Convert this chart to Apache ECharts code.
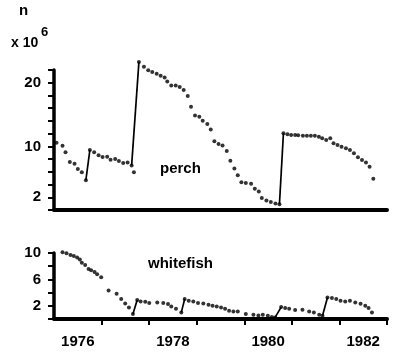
<!DOCTYPE html>
<html>
<head>
<meta charset="utf-8">
<script src="https://cdn.jsdelivr.net/npm/echarts@6/dist/echarts.min.js"></script>
<style>
html,body{margin:0;padding:0;background:#fff;}
#c{width:400px;height:358px;}
</style>
</head>
<body>
<div id="c"></div>
<script>
// ---- data (years as decimal year, values in millions) ----
const perchYears = [1976.053,1976.179,1976.242,1976.333,1976.432,1976.501,1976.585,1976.670,
  1976.754,1976.844,1976.937,1977.021,1977.118,1977.189,1977.286,1977.364,1977.455,1977.547,1977.632,1977.680,
  1977.785,1977.891,1977.981,1978.065,1978.158,1978.242,1978.326,1978.381,1978.465,1978.558,1978.642,1978.726,
  1978.811,1978.880,1978.964,1979.055,1979.126,1979.223,1979.295,1979.371,1979.459,1979.543,1979.632,1979.707,
  1979.792,1979.863,1979.939,1980.032,1980.143,1980.221,1980.305,1980.368,1980.465,1980.558,1980.655,1980.739,
  1980.823,1980.907,1980.985,1981.069,1981.133,1981.232,1981.316,1981.400,1981.484,1981.568,1981.638,1981.722,
  1981.807,1981.876,1981.960,1982.044,1982.137,1982.221,1982.305,1982.389,1982.474,1982.558,1982.634,1982.712];
const perchValues = [10.58,10.11,9.06,7.53,7.26,6.43,5.95,4.69,
  9.43,9.06,8.59,8.32,8.37,7.90,8.01,7.69,7.37,7.48,7.01,5.95,
  23.27,22.53,21.95,21.70,21.43,21.11,20.84,20.21,19.58,19.58,19.33,18.85,
  17.91,16.22,14.84,14.64,14.01,13.53,12.66,10.82,10.37,10.14,9.27,7.74,
  6.54,5.48,4.37,4.26,4.11,3.32,2.91,1.89,1.48,1.26,1.01,0.90,
  12.06,11.91,11.80,11.80,11.75,11.68,11.68,11.68,11.68,11.53,11.27,11.01,
  11.27,10.48,10.22,9.95,9.70,9.43,8.91,8.27,7.85,7.48,6.79,4.90];
// stocking jumps: [from index, to index]
const perchJumps = [[7,8],[18,20],[55,56]];

const whitefishYears = [1976.179,1976.263,1976.347,1976.417,1976.486,1976.543,1976.585,1976.655,1976.726,1976.781,
  1976.853,1976.907,1976.992,1977.147,1977.316,1977.413,1977.497,1977.575,1977.659,
  1977.749,1977.821,1977.918,1978.002,1978.171,1978.297,1978.396,1978.465,1978.564,1978.676,
  1978.747,1978.832,1978.928,1979.027,1979.139,1979.248,1979.333,1979.421,1979.512,1979.596,1979.680,
  1979.771,1979.863,1980.032,1980.192,1980.297,1980.389,1980.495,1980.579,1980.648,
  1980.775,1980.859,1980.943,1981.069,1981.223,1981.364,1981.463,1981.575,1981.644,
  1981.749,1981.842,1981.933,1982.023,1982.122,1982.221,1982.333,1982.444,1982.543,1982.613,1982.684];
const whitefishValues = [10.11,9.96,9.71,9.55,9.30,9.00,8.54,8.20,7.59,7.40,
  7.14,6.79,6.34,4.32,3.83,3.02,2.35,1.75,0.75,
  2.87,2.66,2.61,2.42,2.51,2.42,2.26,1.90,1.55,1.00,
  3.02,2.76,2.66,2.42,2.35,2.16,2.01,1.90,1.75,1.55,1.25,
  1.15,1.15,0.75,0.65,0.54,0.65,0.50,0.30,0.24,
  1.81,1.66,1.55,1.36,1.40,1.15,1.00,0.65,0.50,
  3.26,3.17,3.02,2.76,2.66,2.76,2.51,2.31,2.01,1.66,1.00];
const whitefishJumps = [[18,19],[28,29],[48,49],[57,58]];

const perchTickLabels = [2, 10, 20];
const whitefishTickLabels = [2, 6, 10];
const yearLabels = ['1976', '1978', '1980', '1982'];

// ---- build ----
const FONT = 'Liberation Sans';
const toPts = (xs, ys) => xs.map((x, i) => [x, ys[i]]);
const perchPts = toPts(perchYears, perchValues);
const wfPts = toPts(whitefishYears, whitefishValues);

const xTicks = [1977,1978,1979,1980,1981,1982,1983];
const xLabelPos = yearLabels.map(s => Number(s) + 0.5);

function jumpSeries(pts, jumps, idx) {
  return jumps.map(([a, b]) => ({
    type: 'line', xAxisIndex: idx, yAxisIndex: idx, clip: false,
    data: [pts[a], pts[b]], symbol: 'none', silent: true,
    lineStyle: { color: '#000', width: 1.7 }, z: 2
  }));
}

const chart = echarts.init(document.getElementById('c'), null, { renderer: 'canvas' });
chart.setOption({
  animation: false,
  backgroundColor: '#fff',
  grid: [
    { left: 54, right: 13, top: 70, height: 140, outerBoundsMode: 'none', containLabel: false },
    { left: 54, right: 13, top: 253, height: 66, outerBoundsMode: 'none', containLabel: false }
  ],
  xAxis: [
    { type: 'value', gridIndex: 0, min: 1976, max: 1983, splitLine: { show: false },
      axisLine: { show: true, onZero: false, lineStyle: { color: '#000', width: 4 } },
      axisTick: { show: false }, axisLabel: { show: false } },
    { type: 'value', gridIndex: 1, min: 1976, max: 1983, splitLine: { show: false },
      axisLine: { show: true, onZero: false, lineStyle: { color: '#000', width: 4 } },
      axisTick: { show: true, customValues: xTicks, length: 6, inside: false, lineStyle: { color: '#000', width: 2 } },
      axisLabel: { show: true, customValues: xLabelPos, margin: 15,
        formatter: v => String(Math.floor(v)),
        color: '#000', fontFamily: FONT, fontWeight: 'bold', fontSize: 15 } }
  ],
  yAxis: [
    { type: 'value', gridIndex: 0, min: 0, max: 22, interval: 2, splitLine: { show: false },
      axisLine: { show: true, onZero: false, lineStyle: { color: '#000', width: 3.5 } },
      axisTick: { show: true, length: 6, lineStyle: { color: '#000', width: 2 } },
      axisLabel: { show: true, customValues: perchTickLabels, margin: 13,
        color: '#000', fontFamily: FONT, fontWeight: 'bold', fontSize: 15 } },
    { type: 'value', gridIndex: 1, min: 0, max: 10, interval: 2, splitLine: { show: false },
      axisLine: { show: true, onZero: false, lineStyle: { color: '#000', width: 3.5 } },
      axisTick: { show: true, length: 6, lineStyle: { color: '#000', width: 2 } },
      axisLabel: { show: true, customValues: whitefishTickLabels, margin: 13,
        color: '#000', fontFamily: FONT, fontWeight: 'bold', fontSize: 15 } }
  ],
  series: [
    { type: 'scatter', xAxisIndex: 0, yAxisIndex: 0, data: perchPts, symbol: 'circle', symbolSize: 4,
      clip: false, itemStyle: { color: '#000' }, z: 3, silent: true },
    { type: 'scatter', xAxisIndex: 1, yAxisIndex: 1, data: wfPts, symbol: 'circle', symbolSize: 4,
      clip: false, itemStyle: { color: '#000' }, z: 3, silent: true },
    ...jumpSeries(perchPts, perchJumps, 0),
    ...jumpSeries(wfPts, whitefishJumps, 1)
  ],
  graphic: [
    { type: 'text', left: 19, top: 3, style: { text: 'n', fill: '#000', font: 'bold 15px "Liberation Sans"' } },
    { type: 'text', left: 11, top: 36, style: { text: 'x 10', fill: '#000', font: 'bold 14px "Liberation Sans"' } },
    { type: 'text', left: 41, top: 26, style: { text: '6', fill: '#000', font: 'bold 13px "Liberation Sans"' } },
    { type: 'text', left: 160, top: 161, style: { text: 'perch', fill: '#000', font: 'bold 15px "Liberation Sans"' } },
    { type: 'text', left: 148, top: 256, style: { text: 'whitefish', fill: '#000', font: 'bold 15px "Liberation Sans"' } }
  ]
});
</script>
</body>
</html>
